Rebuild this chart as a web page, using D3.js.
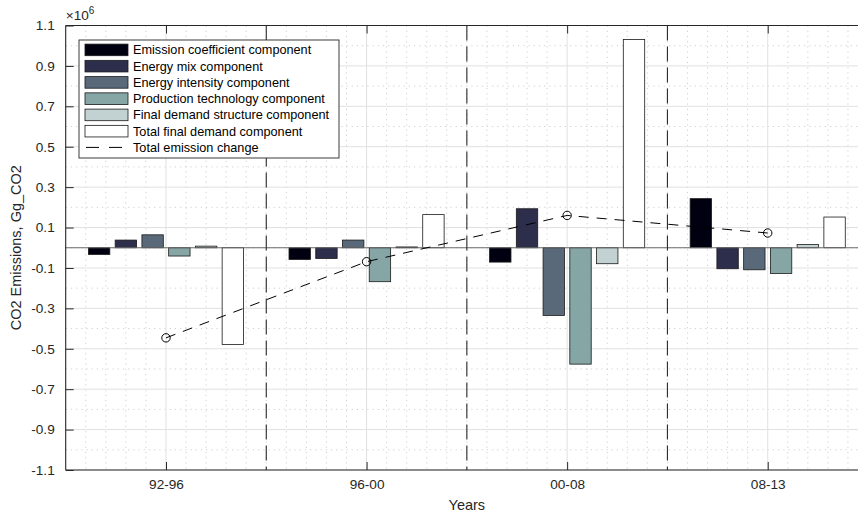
<!DOCTYPE html>
<html>
<head>
<meta charset="utf-8">
<script src="https://cdn.jsdelivr.net/npm/d3@7"></script>
<style>
  html, body { margin: 0; padding: 0; background: #fff; }
  svg { display: block; font-family: "Liberation Sans", Arial, Helvetica, sans-serif; }
</style>
</head>
<body>
<svg id="chart" width="858" height="516"></svg>
<script>
// Decomposition of CO2 emission changes by period (Gg CO2)
const periods = ["92-96", "96-00", "00-08", "08-13"];
const seriesNames = [
  "Emission coefficient component",
  "Energy mix component",
  "Energy intensity component",
  "Production technology component",
  "Final demand structure component",
  "Total final demand component"
];
const emissionCoefficient = [-33000, -58000, -71000, 243000];
const energyMix = [38000, -53000, 193000, -104000];
const energyIntensity = [64000, 38000, -335000, -109000];
const productionTechnology = [-41000, -168000, -576000, -127000];
const finalDemandStructure = [8000, 4000, -79000, 16000];
const totalFinalDemand = [-479000, 164000, 1031000, 152000];
const totalChange = [-446000, -69000, 160000, 73000];
const yTicks = [-1.1e6, -0.9e6, -0.7e6, -0.5e6, -0.3e6, -0.1e6, 0.1e6, 0.3e6, 0.5e6, 0.7e6, 0.9e6, 1.1e6];

const seriesValues = [emissionCoefficient, energyMix, energyIntensity,
  productionTechnology, finalDemandStructure, totalFinalDemand];
// bone colormap, 6 levels
const barColors = ["#000010", "#2d2d4c", "#59697a", "#86a6a6", "#c2d2d2", "#ffffff"];

const svg = d3.select("#chart");
const axisColor = "#262626";
const plotL = 65.7, plotR = 868, plotT = 25.5, plotB = 470;

const x = d3.scaleLinear().domain([0.5, 4.5]).range([plotL, plotR]);
const y = d3.scaleLinear().domain([-1.1e6, 1.1e6]).range([plotB, plotT]);

// grid
const grid = svg.append("g");
const minorX = d3.range(6, 45).map(i => i / 10).filter(v => Math.abs(v - Math.round(v)) > 1e-9);
const minorY = d3.range(-10, 11, 2).map(i => i * 1e5);
grid.selectAll(".mx").data(minorX).join("line")
  .attr("x1", d => x(d)).attr("x2", d => x(d)).attr("y1", plotT).attr("y2", plotB)
  .attr("stroke", "#c4c4c4").attr("stroke-width", 0.8).attr("stroke-dasharray", "1.2 4");
grid.selectAll(".my").data(minorY).join("line")
  .attr("x1", plotL).attr("x2", plotR).attr("y1", d => y(d)).attr("y2", d => y(d))
  .attr("stroke", "#c4c4c4").attr("stroke-width", 0.8).attr("stroke-dasharray", "1.2 4");
grid.selectAll(".Mx").data([1, 2, 3, 4]).join("line")
  .attr("x1", d => x(d)).attr("x2", d => x(d)).attr("y1", plotT).attr("y2", plotB)
  .attr("stroke", "#e1e1e1").attr("stroke-width", 1);
grid.selectAll(".My").data(yTicks).join("line")
  .attr("x1", plotL).attr("x2", plotR).attr("y1", d => y(d)).attr("y2", d => y(d))
  .attr("stroke", "#e1e1e1").attr("stroke-width", 1);

// grouped bars
const nS = seriesValues.length;
const groupWidth = 0.8;
const step = groupWidth / nS;
const barW = step * 0.8;
const bars = svg.append("g");
seriesValues.forEach((vals, s) => {
  bars.selectAll(null).data(vals).join("rect")
    .attr("x", (d, i) => x(i + 1 + (s - (nS - 1) / 2) * step - barW / 2))
    .attr("width", x(barW) - x(0))
    .attr("y", d => y(Math.max(0, d)))
    .attr("height", d => Math.abs(y(d) - y(0)))
    .attr("fill", barColors[s])
    .attr("stroke", "#1a1a1a").attr("stroke-width", 0.8);
});

// baseline
svg.append("line")
  .attr("x1", plotL).attr("x2", plotR).attr("y1", y(0)).attr("y2", y(0))
  .attr("stroke", "#6a6a6a").attr("stroke-width", 1.2);

// period separators
svg.append("g").selectAll("line").data([1.5, 2.5, 3.5]).join("line")
  .attr("x1", d => x(d)).attr("x2", d => x(d)).attr("y1", plotT).attr("y2", plotB)
  .attr("stroke", "#2a2a2a").attr("stroke-width", 1.1).attr("stroke-dasharray", "15 6");

// total emission change
const line = d3.line().x((d, i) => x(i + 1)).y(d => y(d));
svg.append("path").datum(totalChange)
  .attr("d", line).attr("fill", "none")
  .attr("stroke", "#000").attr("stroke-width", 1).attr("stroke-dasharray", "10 8");
svg.append("g").selectAll("circle").data(totalChange).join("circle")
  .attr("cx", (d, i) => x(i + 1)).attr("cy", d => y(d)).attr("r", 4.2)
  .attr("fill", "none").attr("stroke", "#000").attr("stroke-width", 1);

// axes
const fs = 13.6;
const yAxis = d3.axisLeft(y).tickValues(yTicks).tickSize(-8).tickPadding(11)
  .tickFormat(d => d3.format(".1f")(d / 1e6).replace("\u2212", "-"));
const gY = svg.append("g").attr("transform", `translate(${plotL},0)`).call(yAxis);
const xAxis = d3.axisBottom(x).tickValues([1, 2, 3, 4]).tickSize(-8).tickPadding(9)
  .tickFormat((d, i) => periods[i]);
const gX = svg.append("g").attr("transform", `translate(0,${plotB})`).call(xAxis);
const xTop = d3.axisTop(x).tickValues([1, 2, 3, 4]).tickSize(-8).tickFormat("");
const gXT = svg.append("g").attr("transform", `translate(0,${plotT})`).call(xTop);
[gY, gX, gXT].forEach(g => {
  g.select(".domain").remove();
  g.selectAll(".tick line").attr("stroke", axisColor).attr("stroke-width", 1);
  g.selectAll(".tick text").attr("fill", axisColor).attr("font-size", fs)
    .attr("font-family", "'Liberation Sans', Arial, Helvetica, sans-serif");
});
// axis box
svg.append("path")
  .attr("d", `M${plotL},${plotT}H${plotR}M${plotL},${plotB}H${plotR}M${plotL},${plotT}V${plotB}`)
  .attr("stroke", axisColor).attr("stroke-width", 1.1).attr("fill", "none");

// exponent label
const ex = svg.append("text").attr("x", plotL).attr("y", 20)
  .attr("fill", axisColor).attr("font-size", fs);
ex.append("tspan").text("\u00d710");
ex.append("tspan").attr("font-size", 10).attr("dy", -6).text("6");

// axis titles
svg.append("text").attr("transform", `translate(21,${(plotT + plotB) / 2}) rotate(-90)`)
  .attr("text-anchor", "middle").attr("font-size", 14.5).attr("fill", axisColor)
  .text("CO2 Emissions, Gg_CO2");
svg.append("text").attr("x", (plotL + plotR) / 2).attr("y", 510)
  .attr("text-anchor", "middle").attr("font-size", 14.5).attr("fill", axisColor)
  .text("Years");

// legend
const lfs = 12.7;
const lg = svg.append("g");
lg.append("rect").attr("x", 79).attr("y", 40).attr("width", 260).attr("height", 118)
  .attr("fill", "#fff").attr("stroke", axisColor).attr("stroke-width", 0.9);
const rowY = i => 49.9 + i * 16.25;
seriesNames.forEach((name, i) => {
  lg.append("rect").attr("x", 85).attr("y", rowY(i) - 5.8).attr("width", 43).attr("height", 11.6)
    .attr("fill", barColors[i]).attr("stroke", "#1a1a1a").attr("stroke-width", 0.8);
  lg.append("text").attr("x", 133).attr("y", rowY(i)).attr("dy", "0.35em")
    .attr("font-size", lfs).attr("fill", "#000").text(name);
});
lg.append("line").attr("x1", 86).attr("x2", 126).attr("y1", rowY(6)).attr("y2", rowY(6))
  .attr("stroke", "#000").attr("stroke-width", 1).attr("stroke-dasharray", "13 10");
lg.append("text").attr("x", 133).attr("y", rowY(6)).attr("dy", "0.35em")
  .attr("font-size", lfs).attr("fill", "#000").text("Total emission change");
</script>
</body>
</html>
